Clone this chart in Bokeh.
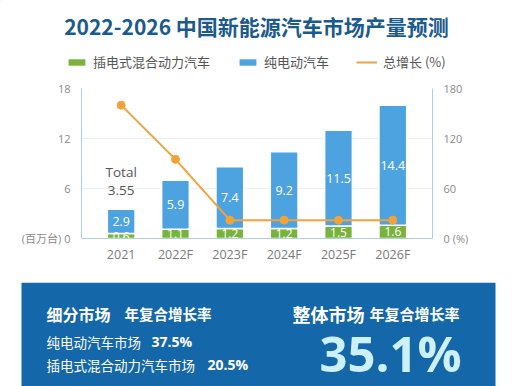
from bokeh.plotting import figure
from bokeh.models import (ColumnDataSource, FactorRange, Range1d, LinearAxis, FixedTicker,
                          Legend, LegendItem)
from bokeh.layouts import column, row
from bokeh.core.properties import value
from bokeh.embed import file_html
from bokeh.resources import INLINE

# ---- data ----
years = ["2021", "2022F", "2023F", "2024F", "2025F", "2026F"]
phev = [0.6, 1.1, 1.2, 1.2, 1.5, 1.6]
bev = [2.9, 5.9, 7.4, 9.2, 11.5, 14.4]
growth = [160, 95, 22, 22, 22, 22]
total_2021 = 3.55
left_ticks = [0, 6, 12, 18]
right_ticks = [0, 60, 120, 180]
title_text = "2022-2026 中国新能源汽车市场产量预测"
legend_labels = ["插电式混合动力汽车", "纯电动汽车", "总增长 (%)"]
seg_names = ["纯电动汽车市场", "插电式混合动力汽车市场"]
seg_cagr = [37.5, 20.5]
total_cagr = 35.1

GREEN = "#78b43c"
BLUE = "#4ca3e0"
ORANGE = "#f2a23a"
NAVY = "#1a5a8c"
BOX = "#1467a8"
GREY = "#7a7a7a"
AXIS = "#a9d0e6"
NUM_FONT = "Open Sans, Noto Sans CJK SC"
CJK_FONT = "Noto Sans CJK SC"
W = 521

def blank(h):
    f = figure(width=W, height=h, output_backend="svg", toolbar_location=None,
               x_range=Range1d(0, W), y_range=Range1d(h, 0),
               min_border_left=0, min_border_right=0, min_border_top=0, min_border_bottom=0,
               outline_line_color=None, background_fill_color="white",
               border_fill_color="white")
    f.axis.visible = False
    f.grid.visible = False
    return f

# ---- header: title + legend ----
t = blank(80)
t.text(x=[256], y=[25], text=[title_text], text_font=value(CJK_FONT),
       text_font_size="21px", text_font_style="bold", text_color=NAVY,
       text_align="center", text_baseline="middle")
# legend proxies, placed outside the visible range
lg_g = t.vbar(x=[-1000], top=[-1000], bottom=[-1001], width=1, fill_color=GREEN, line_color=None)
lg_b = t.vbar(x=[-1000], top=[-1000], bottom=[-1001], width=1, fill_color=BLUE, line_color=None)
lg_l = t.line(x=[-1000, -999], y=[-1000, -1000], line_color=ORANGE, line_width=2)
legend = Legend(items=[LegendItem(label=legend_labels[0], renderers=[lg_g]),
                       LegendItem(label=legend_labels[1], renderers=[lg_b]),
                       LegendItem(label=legend_labels[2], renderers=[lg_l])],
                orientation="horizontal", location=(66, 9),
                label_text_font=CJK_FONT, label_text_font_size="13px",
                label_text_color="#555555", glyph_width=21, glyph_height=8,
                spacing=27, padding=0, margin=0, border_line_alpha=0,
                background_fill_alpha=0, label_standoff=6)
t.add_layout(legend, "center")

# ---- chart ----
src = ColumnDataSource(dict(
    x=years, phev=phev, bev=bev, top=[a + b for a, b in zip(phev, bev)],
    phev_mid=[a / 2 for a in phev],
    bev_mid=[a + b / 2 for a, b in zip(phev, bev)],
    phev_lbl=[f"{v:.1f}" for v in phev],
    bev_lbl=[f"{v:.1f}" for v in bev],
    growth=growth,
))

p = figure(x_range=FactorRange(*years, range_padding=0.23, range_padding_units="absolute"),
           y_range=Range1d(0, 18), width=W, height=202,
           output_backend="svg", toolbar_location=None,
           min_border_left=81, min_border_right=89, min_border_top=8, min_border_bottom=44,
           outline_line_color=None, background_fill_color="white", border_fill_color="white")
p.extra_y_ranges = {"pct": Range1d(0, 180)}

p.vbar(x="x", bottom=0, top="phev", width=0.51, source=src, fill_color=GREEN,
       line_color="white", line_width=1.5)
p.vbar(x="x", bottom="phev", top="top", width=0.51, source=src, fill_color=BLUE,
       line_color="white", line_width=1.5)

p.text(x="x", y="bev_mid", text="bev_lbl", source=src, text_color="white",
       text_font=value(NUM_FONT), text_font_size="12.5px", text_align="center",
       text_baseline="middle")
p.text(x="x", y="phev_mid", text="phev_lbl", source=src, text_color="white",
       text_font=value(NUM_FONT), text_font_size="12px", text_align="center",
       text_baseline="middle")
p.text(x=[years[0]], y=[6.9], text=[f"Total\n{total_2021}"], text_color="#555555",
       text_font=value(NUM_FONT), text_font_size="13.5px", text_align="center",
       text_baseline="middle", text_line_height=1.05)

p.line(x="x", y="growth", source=src, y_range_name="pct", line_color=ORANGE, line_width=2)
p.scatter(x="x", y="growth", source=src, y_range_name="pct", size=8, fill_color=ORANGE,
          line_color=ORANGE)

p.xaxis.axis_line_color = AXIS
p.xaxis.major_tick_line_color = None
p.xaxis.minor_tick_line_color = None
p.xaxis.major_label_text_color = GREY
p.xaxis.major_label_text_font = NUM_FONT
p.xaxis.major_label_text_font_size = "12.5px"
p.xaxis.major_label_standoff = 1

p.yaxis.ticker = FixedTicker(ticks=left_ticks)
p.yaxis.axis_line_color = AXIS
p.yaxis.major_tick_line_color = None
p.yaxis.minor_tick_line_color = None
p.yaxis.major_label_text_color = "#8a8a8a"
p.yaxis.major_label_text_font = NUM_FONT
p.yaxis.major_label_text_font_size = "11px"
p.yaxis.major_label_standoff = 5
p.yaxis.major_label_overrides = {0: "(百万台) 0"}

ra = LinearAxis(y_range_name="pct", ticker=FixedTicker(ticks=right_ticks),
                axis_line_color=AXIS, major_tick_line_color=None, minor_tick_line_color=None,
                major_label_text_color="#8a8a8a", major_label_text_font=NUM_FONT,
                major_label_text_font_size="11px", major_label_standoff=5,
                major_label_overrides={0: "0 (%)"})
p.add_layout(ra, "right")

p.xgrid.grid_line_color = None
p.ygrid.ticker = FixedTicker(ticks=left_ticks)
p.ygrid.grid_line_color = "#e8eff5"

# ---- bottom box ----
q = blank(104)
q.quad(left=[21], right=[495], top=[0], bottom=[104], fill_color=BOX, line_color=None)

def txt(x, y, s, size, bold=False, color="white", font=CJK_FONT):
    q.text(x=[x], y=[y], text=[s], text_font=value(font), text_font_size=size,
           text_font_style="bold" if bold else "normal", text_color=color,
           text_baseline="middle", text_align="left")

txt(46, 31, "细分市场", "16px", bold=True)
txt(124, 31, "年复合增长率", "14.5px", bold=True)
txt(46, 59, seg_names[0], "13.5px")
txt(151, 59, f"{seg_cagr[0]}%", "14px", bold=True, font=NUM_FONT)
txt(46, 82, seg_names[1], "13.5px")
txt(207, 82, f"{seg_cagr[1]}%", "14px", bold=True, font=NUM_FONT)
txt(292, 31, "整体市场", "18px", bold=True)
txt(369, 31, "年复合增长率", "15px", bold=True)
txt(319, 70, f"{total_cagr}%", "49px", bold=True, color="#cdf1fb", font=NUM_FONT)

layout = column(row(t), p, row(q), spacing=0)
open("out.html", "w").write(file_html(layout, INLINE))
